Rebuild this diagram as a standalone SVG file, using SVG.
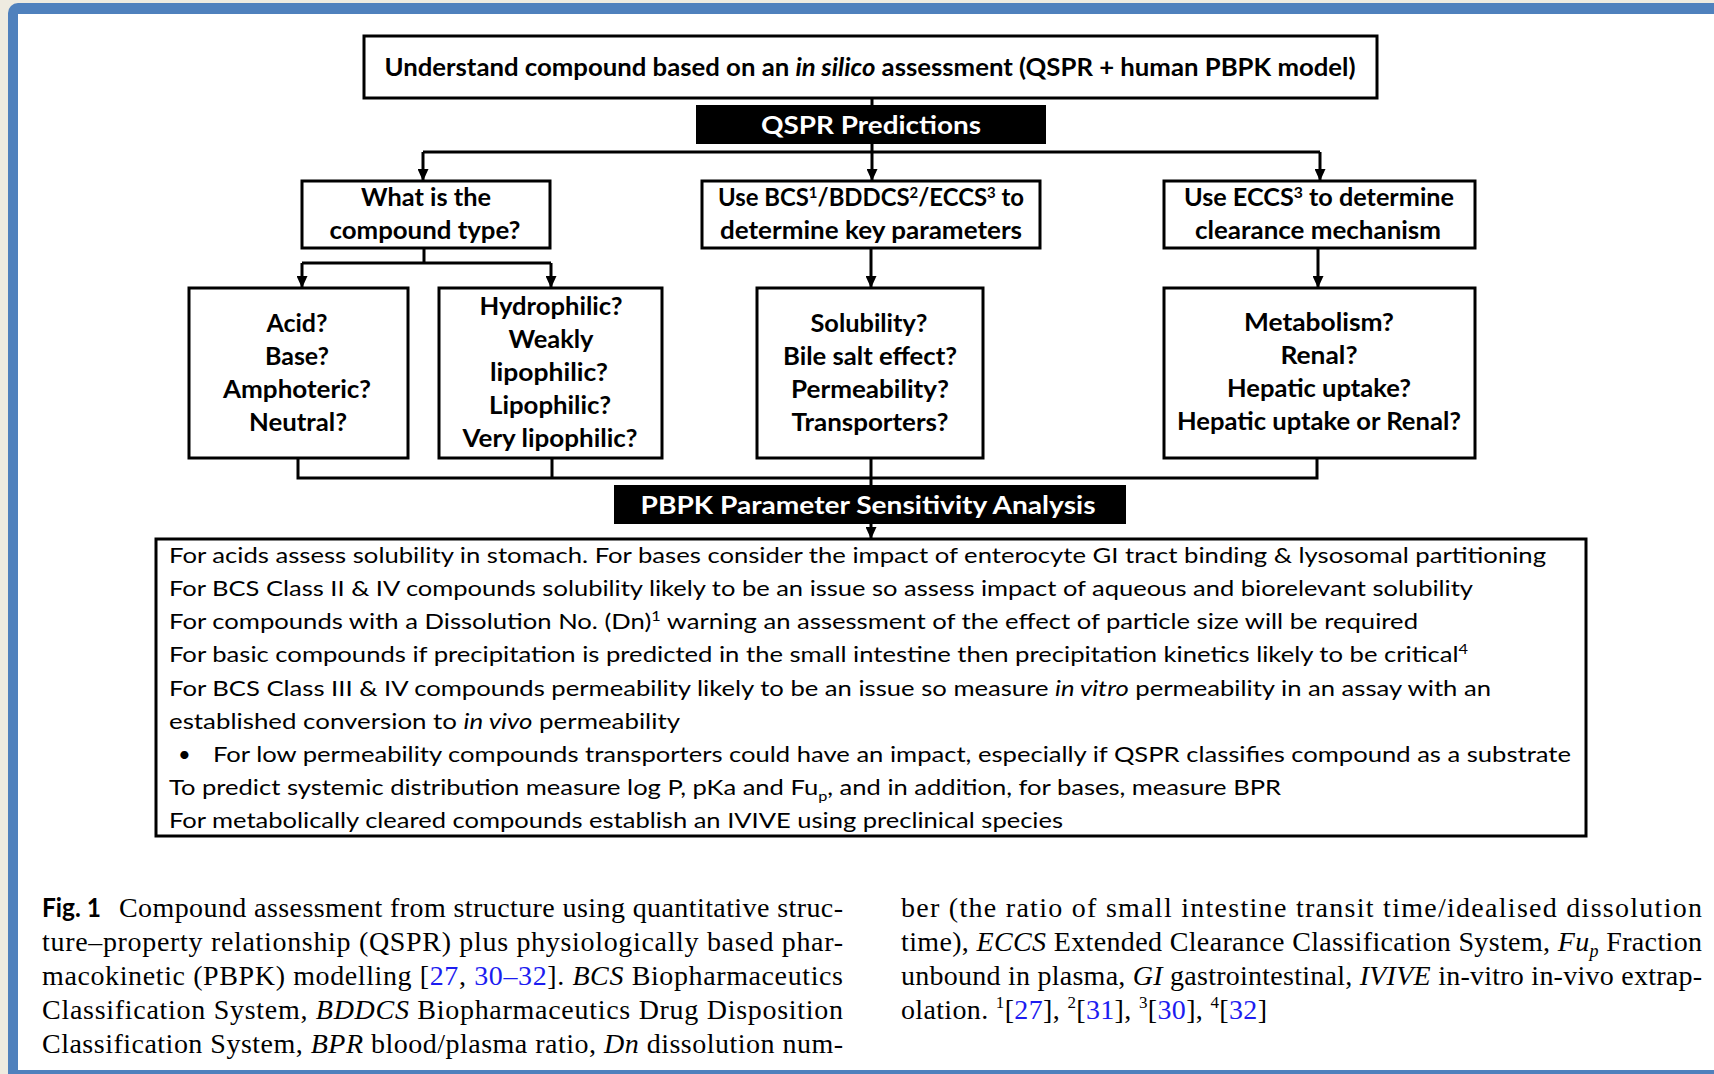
<svg xmlns="http://www.w3.org/2000/svg" width="1714" height="1074" viewBox="0 0 1714 1074">
  <defs>
    <style>
      .box{fill:#fff;stroke:#000;stroke-width:3}
      .dark{fill:#000;stroke:#000;stroke-width:2}
      .lbl{font-family:Lato,"Open Sans","Liberation Sans",sans-serif;font-weight:700;font-size:24px;fill:#000;text-anchor:middle}
      .hdr{font-family:Lato,"Open Sans","Liberation Sans",sans-serif;font-weight:700;font-size:25px;fill:#fff;text-anchor:middle}
      .body{font-family:Lato,"Open Sans","Liberation Sans",sans-serif;font-size:22px;fill:#000}
      .cap{font-family:"Liberation Serif","Times New Roman",serif;font-size:28px;fill:#000}
      .figno{font-family:Lato,"Liberation Sans",sans-serif;font-weight:700;font-size:26px;fill:#000}
      .link{fill:#1c1cf0}
      .conn{fill:none;stroke:#000;stroke-width:3}
      .arr{fill:none;stroke:#000;stroke-width:3;marker-end:url(#arrow)}
    </style>
    <marker id="arrow" markerUnits="userSpaceOnUse" markerWidth="12" markerHeight="11" viewBox="0 0 12 11" refX="12" refY="5.5" orient="auto">
      <path d="M0,0 L12,5.5 L0,11 z" fill="#000"/>
    </marker>
  </defs>

  <!-- page frame -->
  <rect x="0" y="0" width="1714" height="1074" fill="#eeebe0"/>
  <rect x="8" y="3" width="1730" height="1090" rx="10" fill="#4f81bd"/>
  <rect x="18" y="14" width="1700" height="1056" fill="#fff"/>

  <!-- connectors -->
  <g id="connectors">
    <path class="conn" d="M872,98 V105"/>
    <path class="conn" d="M872,144 V152 M423,152 H1320"/>
    <path class="arr" d="M423,152 V181"/>
    <path class="arr" d="M872,152 V181"/>
    <path class="arr" d="M1320,152 V181"/>
    <path class="conn" d="M424,248 V263 M302,263 H551"/>
    <path class="arr" d="M302,263 V288"/>
    <path class="arr" d="M551,263 V288"/>
    <path class="arr" d="M871,248 V288"/>
    <path class="arr" d="M1318,248 V288"/>
    <path class="conn" d="M298,458 V478 H1317 V458 M552,458 V478 M871,458 V485"/>
    <path class="arr" d="M871,524 V539"/>
  </g>

  <!-- top assessment box -->
  <g id="assessment">
    <rect class="box" x="364" y="36" width="1013" height="62"/>
    <text class="lbl" x="870" y="76" style="font-size:25px" textLength="971" lengthAdjust="spacingAndGlyphs">Understand compound based on an <tspan font-style="italic">in silico</tspan> assessment (QSPR + human PBPK model)</text>
  </g>

  <g id="qspr">
    <rect class="dark" x="697" y="106" width="348" height="37"/>
    <text class="hdr" x="871" y="134" textLength="220" lengthAdjust="spacingAndGlyphs">QSPR Predictions</text>
  </g>

  <g id="compound-type">
    <rect class="box" x="302" y="181" width="248" height="67"/>
    <text class="lbl" x="426" y="206" textLength="130" lengthAdjust="spacingAndGlyphs">What is the</text>
    <text class="lbl" x="425" y="239" textLength="191" lengthAdjust="spacingAndGlyphs">compound type?</text>
  </g>

  <g id="key-parameters">
    <rect class="box" x="702" y="181" width="338" height="67"/>
    <text class="lbl" x="871" y="206" textLength="306" lengthAdjust="spacingAndGlyphs">Use BCS<tspan dy="-8" font-size="15">1</tspan><tspan dy="8">/BDDCS</tspan><tspan dy="-8" font-size="15">2</tspan><tspan dy="8">/ECCS</tspan><tspan dy="-8" font-size="15">3</tspan><tspan dy="8"> to</tspan></text>
    <text class="lbl" x="871" y="239" textLength="302" lengthAdjust="spacingAndGlyphs">determine key parameters</text>
  </g>

  <g id="clearance">
    <rect class="box" x="1164" y="181" width="311" height="67"/>
    <text class="lbl" x="1319" y="206" textLength="270" lengthAdjust="spacingAndGlyphs">Use ECCS<tspan dy="-8" font-size="15">3</tspan><tspan dy="8"> to determine</tspan></text>
    <text class="lbl" x="1318" y="239" textLength="246" lengthAdjust="spacingAndGlyphs">clearance mechanism</text>
  </g>

  <g id="ionisation">
    <rect class="box" x="189" y="288" width="219" height="170"/>
    <text class="lbl" x="297" y="332" textLength="61" lengthAdjust="spacingAndGlyphs">Acid?</text>
    <text class="lbl" x="297" y="365" textLength="64" lengthAdjust="spacingAndGlyphs">Base?</text>
    <text class="lbl" x="297" y="398" textLength="148" lengthAdjust="spacingAndGlyphs">Amphoteric?</text>
    <text class="lbl" x="298" y="431" textLength="98" lengthAdjust="spacingAndGlyphs">Neutral?</text>
  </g>

  <g id="lipophilicity">
    <rect class="box" x="439" y="288" width="223" height="170"/>
    <text class="lbl" x="551" y="315" textLength="143" lengthAdjust="spacingAndGlyphs">Hydrophilic?</text>
    <text class="lbl" x="551" y="348" textLength="85" lengthAdjust="spacingAndGlyphs">Weakly</text>
    <text class="lbl" x="549" y="381" textLength="118" lengthAdjust="spacingAndGlyphs">lipophilic?</text>
    <text class="lbl" x="550" y="414" textLength="122" lengthAdjust="spacingAndGlyphs">Lipophilic?</text>
    <text class="lbl" x="550" y="447" textLength="175" lengthAdjust="spacingAndGlyphs">Very lipophilic?</text>
  </g>

  <g id="absorption">
    <rect class="box" x="757" y="288" width="226" height="170"/>
    <text class="lbl" x="869" y="332" textLength="117" lengthAdjust="spacingAndGlyphs">Solubility?</text>
    <text class="lbl" x="870" y="365" textLength="174" lengthAdjust="spacingAndGlyphs">Bile salt effect?</text>
    <text class="lbl" x="870" y="398" textLength="158" lengthAdjust="spacingAndGlyphs">Permeability?</text>
    <text class="lbl" x="870" y="431" textLength="157" lengthAdjust="spacingAndGlyphs">Transporters?</text>
  </g>

  <g id="elimination">
    <rect class="box" x="1164" y="288" width="311" height="170"/>
    <text class="lbl" x="1319" y="331" textLength="150" lengthAdjust="spacingAndGlyphs">Metabolism?</text>
    <text class="lbl" x="1319" y="364" textLength="77" lengthAdjust="spacingAndGlyphs">Renal?</text>
    <text class="lbl" x="1319" y="397" textLength="184" lengthAdjust="spacingAndGlyphs">Hepatic uptake?</text>
    <text class="lbl" x="1319" y="430" textLength="284" lengthAdjust="spacingAndGlyphs">Hepatic uptake or Renal?</text>
  </g>

  <g id="sensitivity">
    <rect class="dark" x="615" y="486" width="510" height="37"/>
    <text class="hdr" x="868" y="514" textLength="455" lengthAdjust="spacingAndGlyphs">PBPK Parameter Sensitivity Analysis</text>
  </g>

  <g id="recommendations">
    <rect class="box" x="156" y="539" width="1430" height="297"/>
    <text class="body" x="169" y="563" textLength="1377" lengthAdjust="spacingAndGlyphs">For acids assess solubility in stomach. For bases consider the impact of enterocyte GI tract binding &amp; lysosomal partitioning</text>
    <text class="body" x="169" y="596" textLength="1304" lengthAdjust="spacingAndGlyphs">For BCS Class II &amp; IV compounds solubility likely to be an issue so assess impact of aqueous and biorelevant solubility</text>
    <text class="body" x="169" y="629" textLength="1249" lengthAdjust="spacingAndGlyphs">For compounds with a Dissolution No. (Dn)<tspan dy="-8" font-size="14">1</tspan><tspan dy="8"> warning an assessment of the effect of particle size will be required</tspan></text>
    <text class="body" x="169" y="662" textLength="1299" lengthAdjust="spacingAndGlyphs">For basic compounds if precipitation is predicted in the small intestine then precipitation kinetics likely to be critical<tspan dy="-8" font-size="14">4</tspan></text>
    <text class="body" x="169" y="696" textLength="1322" lengthAdjust="spacingAndGlyphs">For BCS Class III &amp; IV compounds permeability likely to be an issue so measure <tspan font-style="italic">in vitro</tspan> permeability in an assay with an</text>
    <text class="body" x="169" y="729" textLength="511" lengthAdjust="spacingAndGlyphs">established conversion to <tspan font-style="italic">in vivo</tspan> permeability</text>
    <text class="body" x="178" y="762">•</text>
    <text class="body" x="213" y="762" textLength="1358" lengthAdjust="spacingAndGlyphs">For low permeability compounds transporters could have an impact, especially if QSPR classifies compound as a substrate</text>
    <text class="body" x="169" y="795" textLength="1112" lengthAdjust="spacingAndGlyphs">To predict systemic distribution measure log P, pKa and Fu<tspan dy="6" font-size="14">p</tspan><tspan dy="-6">, and in addition, for bases, measure BPR</tspan></text>
    <text class="body" x="169" y="828" textLength="894" lengthAdjust="spacingAndGlyphs">For metabolically cleared compounds establish an IVIVE using preclinical species</text>
  </g>

  <!-- figure caption -->
  <g id="caption">
    <text class="figno" x="42" y="917" textLength="59" lengthAdjust="spacingAndGlyphs">Fig. 1</text>
    <text class="cap" x="119" y="917" textLength="724" lengthAdjust="spacing">Compound assessment from structure using quantitative struc-</text>
    <text class="cap" x="42" y="951" textLength="801" lengthAdjust="spacing">ture–property relationship (QSPR) plus physiologically based phar-</text>
    <text class="cap" x="42" y="985" textLength="801" lengthAdjust="spacing">macokinetic (PBPK) modelling [<tspan class="link">27</tspan>, <tspan class="link">30–32</tspan>]. <tspan font-style="italic">BCS</tspan> Biopharmaceutics</text>
    <text class="cap" x="42" y="1019" textLength="801" lengthAdjust="spacing">Classification System, <tspan font-style="italic">BDDCS</tspan> Biopharmaceutics Drug Disposition</text>
    <text class="cap" x="42" y="1053" textLength="801" lengthAdjust="spacing">Classification System, <tspan font-style="italic">BPR</tspan> blood/plasma ratio, <tspan font-style="italic">Dn</tspan> dissolution num-</text>
    <text class="cap" x="901" y="917" textLength="801" lengthAdjust="spacing">ber (the ratio of small intestine transit time/idealised dissolution</text>
    <text class="cap" x="901" y="951" textLength="801" lengthAdjust="spacing">time), <tspan font-style="italic">ECCS</tspan> Extended Clearance Classification System, <tspan font-style="italic">Fu</tspan><tspan font-style="italic" dy="6" font-size="18">p</tspan><tspan dy="-6"> Fraction</tspan></text>
    <text class="cap" x="901" y="985" textLength="801" lengthAdjust="spacing">unbound in plasma, <tspan font-style="italic">GI</tspan> gastrointestinal, <tspan font-style="italic">IVIVE</tspan> in-vitro in-vivo extrap-</text>
    <text class="cap" x="901" y="1019" textLength="366" lengthAdjust="spacing">olation. <tspan dy="-11" font-size="17">1</tspan><tspan dy="11">[</tspan><tspan class="link">27</tspan>], <tspan dy="-11" font-size="17">2</tspan><tspan dy="11">[</tspan><tspan class="link">31</tspan>], <tspan dy="-11" font-size="17">3</tspan><tspan dy="11">[</tspan><tspan class="link">30</tspan>], <tspan dy="-11" font-size="17">4</tspan><tspan dy="11">[</tspan><tspan class="link">32</tspan>]</text>
  </g>
</svg>
